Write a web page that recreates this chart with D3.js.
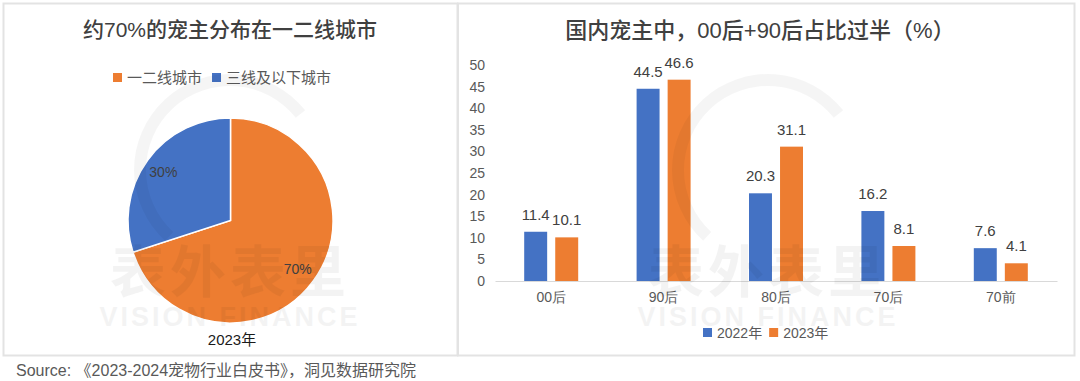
<!DOCTYPE html>
<html><head><meta charset="utf-8">
<script src="https://cdn.jsdelivr.net/npm/d3@7"></script>
<style>
html,body{margin:0;padding:0;background:#fff;}
svg{display:block;font-family:"Liberation Sans","Noto Sans CJK SC",sans-serif;}
</style></head>
<body>
<script>
// ---- data ----
const pieTitle = "约70%的宠主分布在一二线城市";
const pieCategories = ["一二线城市", "三线及以下城市"];
const pieValues = [70, 30];
const pieLabels = ["70%", "30%"];
const pieYear = "2023年";

const barTitle = "国内宠主中，00后+90后占比过半（%）";
const barCategories = ["00后", "90后", "80后", "70后", "70前"];
const barSeries = ["2022年", "2023年"];
const values2022 = [11.4, 44.5, 20.3, 16.2, 7.6];
const values2023 = [10.1, 46.6, 31.1, 8.1, 4.1];
const yTicks = [0, 5, 10, 15, 20, 25, 30, 35, 40, 45, 50];
const sourceText = "Source:  《2023-2024宠物行业白皮书》，洞见数据研究院";

const BLUE = "#4472C4", ORANGE = "#ED7D31";
const W = 1080, H = 381;
const svg = d3.select("body").append("svg").attr("width", W).attr("height", H);

// panels
svg.append("rect").attr("x", 3.5).attr("y", 3.5).attr("width", 454).attr("height", 352)
  .attr("fill", "#fff").attr("stroke", "#e3e3e3").attr("stroke-width", 2);
svg.append("rect").attr("x", 458).attr("y", 3.5).attr("width", 616.5).attr("height", 352)
  .attr("fill", "#fff").attr("stroke", "#e3e3e3").attr("stroke-width", 2);

// watermark helper
function watermark(cx) {
  const g = svg.append("g").attr("pointer-events", "none");
  g.append("path")
    .attr("d", d3.arc()({innerRadius: 84, outerRadius: 96, startAngle: -2.4, endAngle: 0.9}))
    .attr("transform", `translate(${cx},${170})`).attr("fill", "#000").attr("opacity", 0.04);
  g.append("text").attr("x", cx).attr("y", 292).attr("text-anchor", "middle")
    .attr("font-size", 56).attr("font-weight", "bold").attr("letter-spacing", 4)
    .attr("fill", "#000").attr("opacity", 0.045).text("表外表里");
  g.append("text").attr("x", cx).attr("y", 326).attr("text-anchor", "middle")
    .attr("font-size", 27).attr("font-weight", "bold").attr("letter-spacing", 3)
    .attr("fill", "#000").attr("opacity", 0.045).text("VISION FINANCE");
}

// ---- pie ----
svg.append("text").attr("x", 230).attr("y", 37).attr("text-anchor", "middle")
  .attr("font-size", 21).attr("fill", "#404040").attr("font-weight", 500).text(pieTitle);

const pieColors = d3.scaleOrdinal().domain(pieCategories).range([ORANGE, BLUE]);
// legend
const lg = svg.append("g");
let lx = 113;
pieCategories.forEach((c, i) => {
  lg.append("rect").attr("x", lx).attr("y", 73).attr("width", 9).attr("height", 9).attr("fill", pieColors(c));
  const t = lg.append("text").attr("x", lx + 14).attr("y", 83).attr("font-size", 15).attr("fill", "#595959").text(c);
  lx += 14 + t.node().getComputedTextLength() + 10;
});

const cx = 230.5, cy = 220.5, R = 102.5;
const pie = d3.pie().sort(null).value(d => d)(pieValues);
const arc = d3.arc().innerRadius(0).outerRadius(R);
const pg = svg.append("g").attr("transform", `translate(${cx},${cy})`);
pg.selectAll("path").data(pie).join("path")
  .attr("d", arc).attr("fill", (d, i) => pieColors(pieCategories[i]))
  .attr("stroke", "#fff").attr("stroke-width", 1.5);
pg.selectAll("text").data(pie).join("text")
  .attr("transform", d => {
    const a = (d.startAngle + d.endAngle) / 2;
    const r = R * 0.81;
    return `translate(${Math.sin(a) * r},${-Math.cos(a) * r})`;
  })
  .attr("dy", "0.35em").attr("text-anchor", "middle").attr("font-size", 14).attr("fill", "#404040")
  .text((d, i) => pieLabels[i]);
svg.append("text").attr("x", 232).attr("y", 345).attr("text-anchor", "middle")
  .attr("font-size", 15).attr("fill", "#1a1a1a").text(pieYear);
watermark(230);

// ---- bar chart ----
svg.append("text").attr("x", 760).attr("y", 38).attr("text-anchor", "middle")
  .attr("font-size", 22).attr("fill", "#404040").attr("font-weight", 500).text(barTitle);

const x = d3.scaleBand().domain(barCategories).range([495, 1057]);
const y = d3.scaleLinear().domain([0, 50]).range([281, 65]);
const xs = d3.scaleBand().domain(barSeries).range([0, 54]).paddingInner(0.26);
const barColor = d3.scaleOrdinal().domain(barSeries).range([BLUE, ORANGE]);

const yAxis = svg.append("g").attr("transform", "translate(485,0)")
  .call(d3.axisLeft(y).tickValues(yTicks).tickSize(0).tickPadding(0));
yAxis.select(".domain").remove();
yAxis.selectAll("text").attr("font-size", 14).attr("fill", "#595959").attr("font-family", null);

const xAxis = svg.append("g").attr("transform", "translate(0,281)")
  .call(d3.axisBottom(x).tickSize(0).tickPadding(11));
xAxis.select(".domain").attr("stroke", "#d9d9d9").attr("stroke-width", 1.2);
xAxis.selectAll("text").attr("font-size", 14).attr("fill", "#595959").attr("font-family", null);

const seriesData = [values2022, values2023];
barCategories.forEach((c, ci) => {
  const base = x(c) + x.bandwidth() / 2 - 27;
  barSeries.forEach((s, si) => {
    const v = seriesData[si][ci];
    svg.append("rect").attr("x", base + xs(s)).attr("y", y(v))
      .attr("width", xs.bandwidth()).attr("height", y(0) - y(v)).attr("fill", barColor(s));
    svg.append("text").attr("x", base + xs(s) + xs.bandwidth() / 2).attr("y", y(v) - 12)
      .attr("text-anchor", "middle").attr("font-size", 15).attr("fill", "#404040").text(v.toFixed(1));
  });
});

// legend right
let rx = 703;
barSeries.forEach(s => {
  svg.append("rect").attr("x", rx).attr("y", 328).attr("width", 9).attr("height", 9).attr("fill", barColor(s));
  const t = svg.append("text").attr("x", rx + 14).attr("y", 338).attr("font-size", 14).attr("fill", "#595959").text(s);
  rx += 14 + t.node().getComputedTextLength() + 7;
});
watermark(768);

// source
svg.append("text").attr("x", 16).attr("y", 376).attr("font-size", 16).attr("fill", "#595959").text(sourceText);
</script>
</body></html>
